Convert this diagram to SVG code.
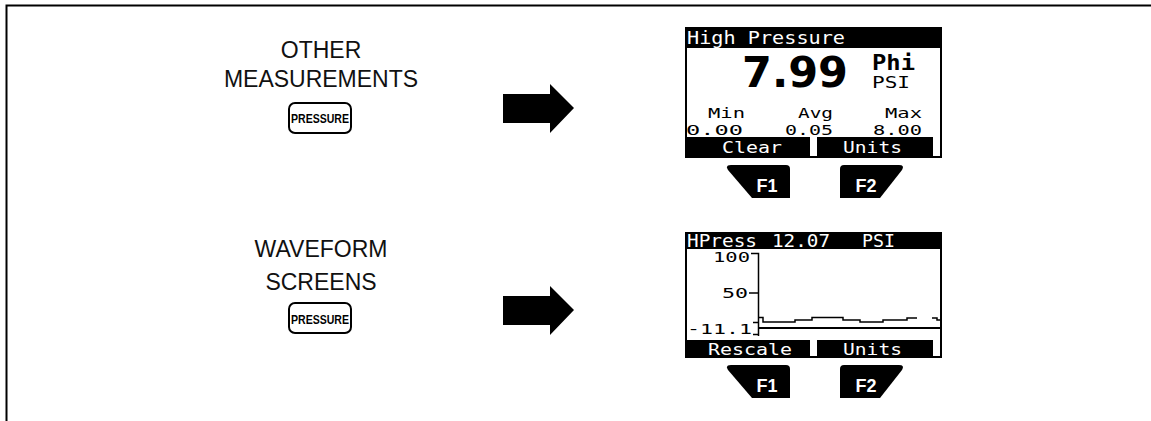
<svg xmlns="http://www.w3.org/2000/svg" width="1151" height="421" viewBox="0 0 1151 421">
<style>
.lbl{font-family:"Liberation Sans",Arial,sans-serif;font-size:23px;fill:#111;text-anchor:middle}
.key{font-family:"Liberation Sans",Arial,sans-serif;font-weight:bold;font-size:13px;fill:#000}
.lcd{font-family:"DejaVu Sans Mono","Liberation Mono",monospace;fill:#000}
.lcdw{font-family:"DejaVu Sans Mono","Liberation Mono",monospace;fill:#fff}
.fk{font-family:"Liberation Sans",Arial,sans-serif;font-weight:bold;font-size:18px;fill:#fff;text-anchor:middle}
.btn{fill:#fff;stroke:#000;stroke-width:2}
.scr{fill:#fff;stroke:#000;stroke-width:2}
</style>
<defs>
<path id="arrow" d="M0 -14 L47 -14 L47 -24 L71 0 L47 25 L47 15 L0 15 Z" fill="#000"/>
<path id="f1" d="M731 165 L786 165 Q790 165 790 169 L790 198 L752 198 L728 170 Q725 165 731 165 Z" fill="#000"/>
<path id="f2" d="M844 165 L899 165 Q905 165 902 170 L880 198 L840 198 L840 169 Q840 165 844 165 Z" fill="#000"/>
</defs>
<rect width="1151" height="421" fill="#fff"/>
<path d="M6.5 421 L6.5 5.5 L1151 5.5" fill="none" stroke="#000" stroke-width="2"/>

<g id="label-other">
<text class="lbl" x="321" y="58">OTHER</text>
<text class="lbl" x="321" y="87">MEASUREMENTS</text>
<rect class="btn" x="289" y="103" width="62" height="30" rx="6"/>
<text class="key" x="291" y="123" textLength="58" lengthAdjust="spacingAndGlyphs">PRESSURE</text>
</g>

<g id="label-waveform">
<text class="lbl" x="321" y="257">WAVEFORM</text>
<text class="lbl" x="321" y="290">SCREENS</text>
<rect class="btn" x="289" y="303" width="62" height="30" rx="6"/>
<text class="key" x="291" y="324" textLength="58" lengthAdjust="spacingAndGlyphs">PRESSURE</text>
</g>

<g id="connectors">
<use href="#arrow" x="503" y="108"/>
<use href="#arrow" x="503" y="310"/>
</g>

<g id="screen-pressure">
<rect class="scr" x="686" y="28" width="255" height="129"/>
<rect x="685" y="27" width="257" height="21" fill="#000"/>
<text class="lcdw" x="687" y="44" font-size="18" textLength="158" lengthAdjust="spacingAndGlyphs">High Pressure</text>
<text x="742" y="87" font-family="'DejaVu Sans','Liberation Sans',sans-serif" font-weight="bold" font-size="42" textLength="106" lengthAdjust="spacingAndGlyphs">7.99</text>
<text class="lcd" x="872" y="70" font-size="22" font-weight="bold" textLength="43" lengthAdjust="spacingAndGlyphs">Phi</text>
<text class="lcd" x="872" y="88" font-size="16" textLength="38" lengthAdjust="spacingAndGlyphs">PSI</text>
<text class="lcd" x="708" y="118" font-size="14" textLength="37" lengthAdjust="spacingAndGlyphs">Min</text>
<text class="lcd" x="798" y="118" font-size="14" textLength="35" lengthAdjust="spacingAndGlyphs">Avg</text>
<text class="lcd" x="885" y="118" font-size="14" textLength="37" lengthAdjust="spacingAndGlyphs">Max</text>
<text class="lcd" x="686" y="134.5" font-size="14" textLength="57" lengthAdjust="spacingAndGlyphs">0.00</text>
<text class="lcd" x="785" y="134.5" font-size="14" textLength="48" lengthAdjust="spacingAndGlyphs">0.05</text>
<text class="lcd" x="873" y="134.5" font-size="14" textLength="49" lengthAdjust="spacingAndGlyphs">8.00</text>
<rect x="685" y="137" width="125" height="20" fill="#000"/>
<rect x="817" y="137" width="116" height="20" fill="#000"/>
<text class="lcdw" x="722" y="153" font-size="16" textLength="60" lengthAdjust="spacingAndGlyphs">Clear</text>
<text class="lcdw" x="843" y="153" font-size="16" textLength="59" lengthAdjust="spacingAndGlyphs">Units</text>
<use href="#f1"/>
<text class="fk" x="767" y="192">F1</text>
<use href="#f2"/>
<text class="fk" x="866" y="192">F2</text>
</g>

<g id="screen-waveform">
<rect class="scr" x="686" y="233" width="255" height="124"/>
<rect x="685" y="232" width="257" height="17" fill="#000"/>
<text class="lcdw" x="687" y="247" font-size="17" textLength="70" lengthAdjust="spacingAndGlyphs">HPress</text>
<text class="lcdw" x="772" y="247" font-size="17" textLength="58" lengthAdjust="spacingAndGlyphs">12.07</text>
<text class="lcdw" x="862" y="247" font-size="17" textLength="33" lengthAdjust="spacingAndGlyphs">PSI</text>
<text class="lcd" x="713" y="262" font-size="14" textLength="37" lengthAdjust="spacingAndGlyphs">100</text>
<text class="lcd" x="722" y="298" font-size="14" textLength="26" lengthAdjust="spacingAndGlyphs">50</text>
<text class="lcd" x="687" y="334" font-size="14" textLength="65" lengthAdjust="spacingAndGlyphs">-11.1</text>
<path d="M751 253.5 L758.5 253.5 L758.5 336 M749 293 L758.5 293 M753 322.5 L758.5 322.5 M753 334.5 L758.5 334.5" fill="none" stroke="#000" stroke-width="1.5"/>
<path d="M758 328 L942 328" stroke="#000" stroke-width="2"/>
<path d="M758 317.5 L763 317.5 L763 322 L795 322 L795 320 L812 320 L812 317.5 L843 317.5 L843 320 L860 320 L860 322 L883 322 L883 320 L907 320 L907 318 L917 318 M932 318 L937 318 L937 320 L942 320" fill="none" stroke="#000" stroke-width="1.5"/>
<rect x="685" y="340" width="125" height="17" fill="#000"/>
<rect x="817" y="340" width="116" height="17" fill="#000"/>
<text class="lcdw" x="708" y="355" font-size="16" textLength="84" lengthAdjust="spacingAndGlyphs">Rescale</text>
<text class="lcdw" x="843" y="355" font-size="16" textLength="59" lengthAdjust="spacingAndGlyphs">Units</text>
<use href="#f1" y="200"/>
<text class="fk" x="767" y="392">F1</text>
<use href="#f2" y="200"/>
<text class="fk" x="866" y="392">F2</text>
</g>
</svg>
